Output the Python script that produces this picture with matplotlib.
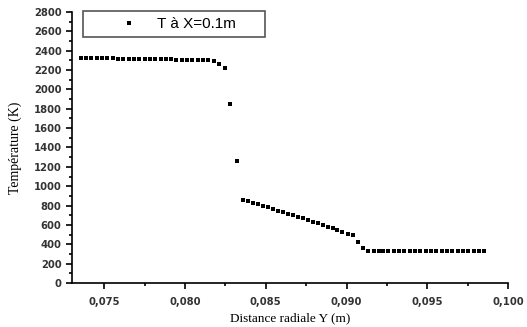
import numpy as np
import matplotlib.pyplot as plt
from matplotlib.legend_handler import HandlerLine2D
from matplotlib.ticker import FuncFormatter, MultipleLocator


# radial distance Y (m) and temperature (K) at X = 0.1 m
dist_y = [0.07358, 0.07389, 0.07420, 0.07457, 0.07488, 0.07519, 0.07556, 0.07586,
          0.07617, 0.07654, 0.07685, 0.07716, 0.07753, 0.07784, 0.07815, 0.07852,
          0.07883, 0.07914, 0.07944, 0.07981, 0.08012, 0.08043, 0.08080, 0.08111,
          0.08142, 0.08179, 0.08210, 0.08247,
          0.08278, 0.08321,
          0.08358, 0.08389, 0.08420, 0.08451, 0.08481, 0.08512, 0.08543, 0.08574,
          0.08605, 0.08636, 0.08667, 0.08698, 0.08728, 0.08759, 0.08790, 0.08821,
          0.08852, 0.08883, 0.08914, 0.08944, 0.08975, 0.09006, 0.09037,
          0.09074, 0.09105,
          0.09136, 0.09167, 0.09198, 0.09228, 0.09259, 0.09296, 0.09327, 0.09358,
          0.09395, 0.09426, 0.09457, 0.09494, 0.09525, 0.09556, 0.09593, 0.09623,
          0.09654, 0.09691, 0.09722, 0.09753, 0.09790, 0.09821, 0.09852]

temp = [2328, 2328, 2328, 2327, 2327, 2326, 2322, 2318,
        2316, 2315, 2315, 2314, 2313, 2313, 2312, 2312,
        2311, 2310, 2309, 2308, 2306, 2305, 2304, 2302,
        2300, 2290, 2262, 2221,
        1845, 1265,
        860, 845, 828, 812, 796, 780, 764, 748,
        732, 716, 700, 684, 668, 651, 635, 619,
        600, 583, 566, 548, 530, 510, 495,
        420, 362,
        335, 335, 335, 334, 333, 330, 328, 327,
        326, 326, 326, 326, 326, 326, 326, 326,
        326, 326, 326, 326, 326, 326, 326]

xticks = [0.075, 0.080, 0.085, 0.090, 0.095, 0.100]


fig = plt.figure( figsize=(5.27, 3.27), dpi=100 )
ax = fig.add_axes( [0.1366, 0.1346, 0.8274, 0.8287] )

pts, = ax.plot( dist_y, temp, 's', color='black', markersize=2.4, markeredgewidth=0,
                label='T à X=0.1m' )

ax.set_xlim( 0.073, 0.100 )
ax.set_ylim( 0, 2800 )

ax.set_xticks( xticks )
ax.xaxis.set_minor_locator( MultipleLocator(0.0025) )
ax.yaxis.set_major_locator( MultipleLocator(200) )
ax.yaxis.set_minor_locator( MultipleLocator(100) )

ax.xaxis.set_major_formatter( FuncFormatter( lambda v, p: f'{v:.3f}'.replace('.', ',') ) )
ax.yaxis.set_major_formatter( FuncFormatter( lambda v, p: f'{int(round(v))}' ) )

ax.tick_params( which='both', direction='out', color='black', width=1.2 )
ax.tick_params( which='major', length=4, labelsize=7.2, labelcolor='#333333' )
ax.tick_params( which='minor', length=2.5 )
ax.tick_params( axis='x', pad=6 )

for lbl in ax.get_xticklabels() + ax.get_yticklabels():
    lbl.set_fontweight( 'bold' )

ax.spines['top'].set_visible( False )
ax.spines['right'].set_visible( False )
ax.spines['left'].set_linewidth( 1.2 )
ax.spines['bottom'].set_linewidth( 1.2 )

ax.set_xlabel( 'Distance radiale Y (m)', fontsize=9.5, family='Liberation Serif', labelpad=4 )
ax.set_ylabel( 'Température (K)', fontsize=10, family='Liberation Serif', labelpad=8 )

# marker shifted right inside the handle box
leg = ax.legend( loc='center', bbox_to_anchor=(0.025, 0.904, 0.417, 0.103), mode='expand',
                 borderaxespad=0, fancybox=False, edgecolor='#555555',
                 framealpha=1, handlelength=4.0, handletextpad=0.46, markerscale=1.3,
                 handler_map={pts: HandlerLine2D(xpad=1.3)},
                 prop={'family': 'Liberation Sans', 'size': 11} )
leg.get_frame().set_linewidth( 1.2 )

fig.savefig( 'out.png', dpi=100 )
